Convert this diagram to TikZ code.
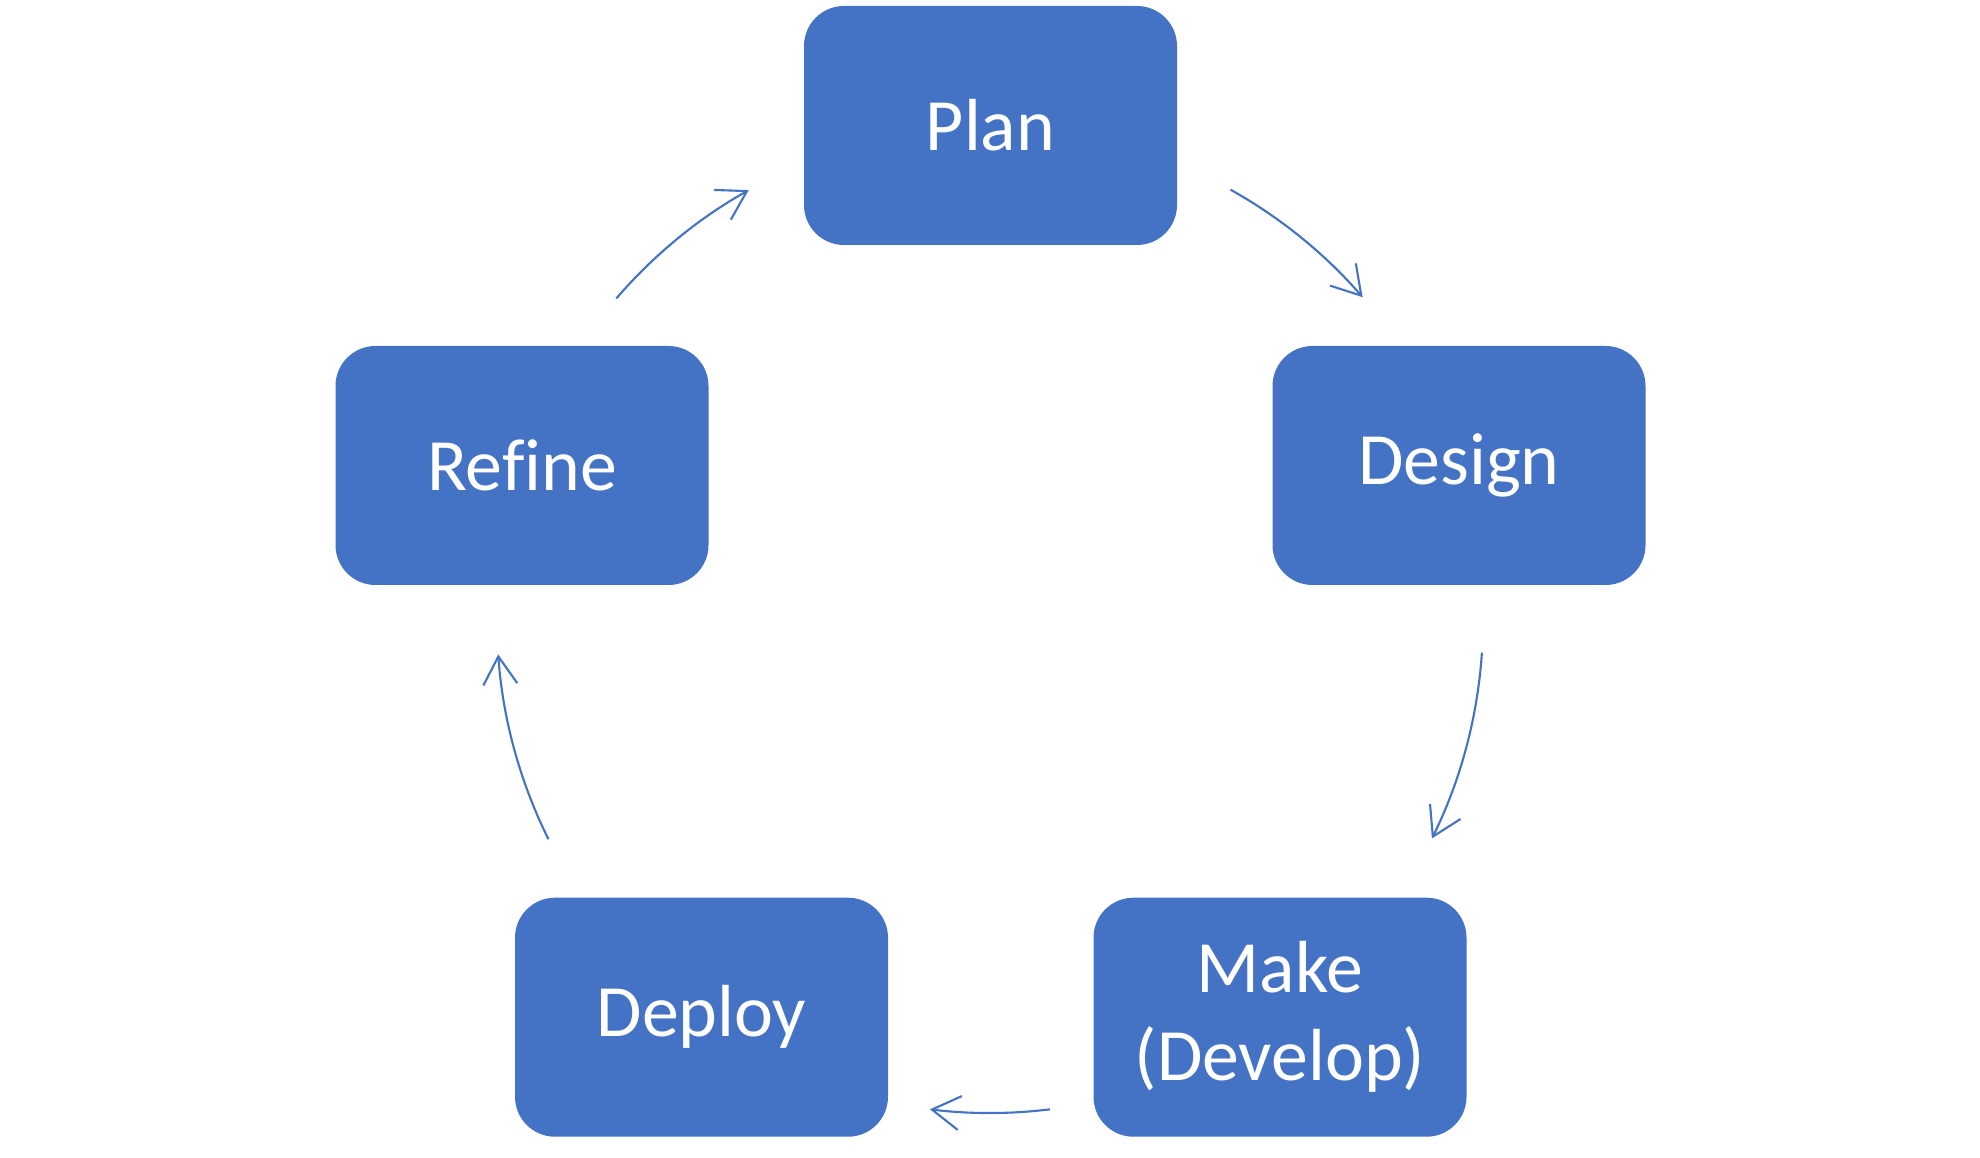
\documentclass[tikz,border=0pt]{standalone}
\usepackage{fontspec}
\setmainfont{Carlito}[Ligatures=NoCommon]
\usepackage{xcolor}
\usepackage{tikz}
\usetikzlibrary{arrows.meta,calc}
\definecolor{officeblue}{RGB}{68, 114, 196}

\begin{document}
\begin{tikzpicture}[
    phase/.style={rectangle, rounded corners=0.4cm, fill=officeblue, text=white,
        minimum width=3.73cm, minimum height=2.39cm, align=center,
        font=\fontsize{21}{25}\selectfont},
    flow/.style={officeblue, line width=0.6pt,
        -{Straight Barb[length=2.8mm, width=3.4mm, line width=0.6pt]}}
]
    \useasboundingbox (0,0) rectangle (19.8,11.57);
    % Stages
    \node[phase] (plan) at (9.905,10.315) {Plan};
    \node[phase] (design) at (14.59,6.915) {Design};
    \node[phase] (make) at (12.80,1.398) {Make\\(Develop)};
    \node[phase] (deploy) at (7.015,1.398) {Deploy};
    \node[phase] (refine) at (5.22,6.915) {Refine};
    % Cycle arrows on one circle
    \coordinate (hub) at (9.90,5.37);
    \coordinate (a1) at ($(hub)+(60.8:4.93)$);
    \coordinate (a2) at ($(hub)+(-3.8:4.93)$);
    \coordinate (a3) at ($(hub)+(-83:4.93)$);
    \coordinate (a4) at ($(hub)+(206.4:4.93)$);
    \coordinate (a5) at ($(hub)+(139.3:4.93)$);
    \draw[flow] (a1) arc[start angle=60.8, end angle=40.9, radius=4.93];
    \draw[flow] (a2) arc[start angle=-3.8, end angle=-26.3, radius=4.93];
    \draw[flow] (a3) arc[start angle=-83, end angle=-97, radius=4.93];
    \draw[flow] (a4) arc[start angle=206.4, end angle=184, radius=4.93];
    \draw[flow] (a5) arc[start angle=139.3, end angle=119.3, radius=4.93];
\end{tikzpicture}
\end{document}
